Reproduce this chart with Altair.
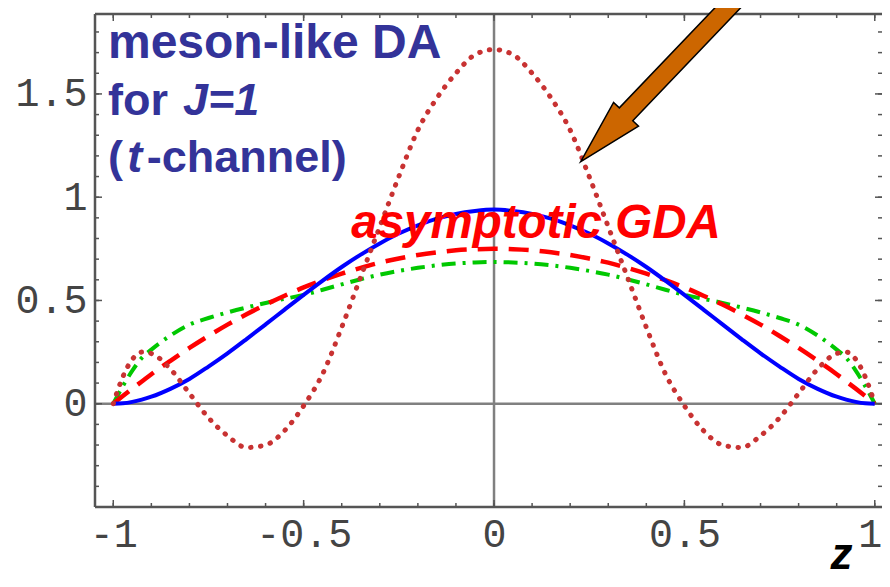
import altair as alt
import pandas as pd

# ---------------- data ----------------
z = [-1, -0.975, -0.95, -0.925, -0.9, -0.85, -0.8, -0.75, -0.7, -0.65, -0.6, -0.55,
     -0.5, -0.45, -0.4, -0.35, -0.3, -0.25, -0.2, -0.15, -0.1, -0.05, 0,
     0.05, 0.1, 0.15, 0.2, 0.25, 0.3, 0.35, 0.4, 0.45, 0.5, 0.55, 0.6, 0.65,
     0.7, 0.75, 0.8, 0.85, 0.9, 0.925, 0.95, 0.975, 1]

blue_solid = [0, 0.002, 0.009, 0.02, 0.034, 0.072, 0.12, 0.18, 0.244, 0.313, 0.384, 0.456,
              0.527, 0.596, 0.662, 0.722, 0.776, 0.824, 0.864, 0.896, 0.919, 0.933, 0.94,
              0.933, 0.919, 0.896, 0.864, 0.824, 0.776, 0.722, 0.662, 0.596, 0.527, 0.456, 0.384, 0.313,
              0.244, 0.18, 0.12, 0.072, 0.034, 0.02, 0.009, 0.002, 0]

red_dashed = [0, 0.037, 0.073, 0.108, 0.143, 0.208, 0.27, 0.328, 0.383, 0.433, 0.48, 0.523,
              0.563, 0.598, 0.63, 0.658, 0.683, 0.703, 0.72, 0.733, 0.743, 0.748, 0.75,
              0.748, 0.743, 0.733, 0.72, 0.703, 0.683, 0.658, 0.63, 0.598, 0.563, 0.523, 0.48, 0.433,
              0.383, 0.328, 0.27, 0.208, 0.143, 0.108, 0.073, 0.037, 0]

green_dashdot = [0, 0.085, 0.16, 0.222, 0.262, 0.33, 0.383, 0.415, 0.442, 0.466, 0.488, 0.508,
                 0.527, 0.552, 0.578, 0.603, 0.625, 0.643, 0.658, 0.67, 0.679, 0.684, 0.686,
                 0.684, 0.679, 0.67, 0.658, 0.643, 0.625, 0.603, 0.578, 0.552, 0.527, 0.508, 0.488, 0.466,
                 0.442, 0.415, 0.383, 0.33, 0.262, 0.222, 0.16, 0.085, 0]

red_dotted = [0, 0.13, 0.215, 0.25, 0.243, 0.168, 0.05, -0.068, -0.155, -0.212, -0.2, -0.13,
              -0.01, 0.145, 0.37, 0.615, 0.857, 1.1, 1.325, 1.48, 1.6, 1.69, 1.715,
              1.69, 1.6, 1.48, 1.325, 1.1, 0.857, 0.615, 0.37, 0.145, -0.01, -0.13, -0.2, -0.212,
              -0.155, -0.068, 0.05, 0.168, 0.243, 0.25, 0.215, 0.13, 0]

x_major = [-1, -0.5, 0, 0.5, 1]
x_minor = [-1, -0.9, -0.8, -0.7, -0.6, -0.5, -0.4, -0.3, -0.2, -0.1, 0,
           0.1, 0.2, 0.3, 0.4, 0.5, 0.6, 0.7, 0.8, 0.9, 1]
y_major = [0, 0.5, 1, 1.5]
y_minor = [-0.4, -0.3, -0.2, -0.1, 0, 0.1, 0.2, 0.3, 0.4, 0.5, 0.6, 0.7, 0.8, 0.9,
           1, 1.1, 1.2, 1.3, 1.4, 1.5, 1.6, 1.7, 1.8]

# annotations (text, anchor z, anchor y)
plain_text = ["meson-like DA", "for", "(", "-channel)"]
plain_z = [-1.014, -1.014, -1.014, -0.912]
plain_y = [1.673, 1.398, 1.124, 1.124]
plain_size = [48, 45, 45, 45]

ital_text = ["J=1", "t", "asymptotic GDA"]
ital_z = [-0.817, -0.963, -0.375]
ital_y = [1.398, 1.124, 0.803]
ital_size = [45, 45, 47.5]
ital_color = ["#333399", "#333399", "#ff0000"]

arrow_z = [0.50]
arrow_y = [1.697]

# ---------------- layout ----------------
W, H = 787, 493
XDOM = [-1.048, 1.019]
YDOM = [-0.5, 1.887]
FRAME = "#555555"
MONO = "Liberation Mono"
SANS = "Liberation Sans"

xs = alt.Scale(domain=XDOM, nice=False, zero=False)
ys = alt.Scale(domain=YDOM, nice=False, zero=False)

xaxis = alt.Axis(values=x_major, format="~g",
                 labelExpr="replace(datum.label, '\u2212', '-')",
                 labelFont=MONO, labelFontSize=40, labelColor="#444444",
                 labelPadding=7, labelFlush=False, labelOverlap=False,
                 labelOffset={"condition": {"test": "datum.value === 1", "value": -5}, "value": 0},
                 ticks=False, tickSize=0, domain=False, grid=False,
                 title="z", titleFont=SANS, titleFontSize=44, titleFontStyle="italic",
                 titleFontWeight="bold", titleColor="black", titleX=746, titleY=61,
                 titleAlign="center", titleBaseline="alphabetic")
yaxis = alt.Axis(values=y_major, format="~g",
                 labelFont=MONO, labelFontSize=40, labelColor="#444444",
                 labelPadding=8, labelOverlap=False,
                 ticks=False, tickSize=0, domain=False, grid=False, title=None)

X = alt.X("z:Q", scale=xs, axis=xaxis)
Y = alt.Y("y:Q", scale=ys, axis=yaxis)

curves = pd.DataFrame({"z": z, "blue": blue_solid, "dash": red_dashed,
                       "green": green_dashdot, "dot": red_dotted})

def curve(col, **kw):
    df = pd.DataFrame({"z": curves["z"], "y": curves[col]})
    return alt.Chart(df).mark_line(interpolate="monotone", **kw).encode(x=X, y=Y)

one = pd.DataFrame({"k": [0]})

zero_v = alt.Chart(pd.DataFrame({"z": [0]})).mark_rule(color="#808080", strokeWidth=2.5).encode(
    x=X, y=alt.value(0), y2=alt.value(H))
zero_h = alt.Chart(pd.DataFrame({"y": [0]})).mark_rule(color="#808080", strokeWidth=2.5).encode(
    y=Y, x=alt.value(0), x2=alt.value(W))

green_l = curve("green", color="#00c800", strokeWidth=4, strokeDash=[14, 7, 3, 7])
dash_l = curve("dash", color="#ff0000", strokeWidth=4.5, strokeDash=[20, 11])
blue_l = curve("blue", color="#0000ff", strokeWidth=4)
dot_l = curve("dot", color="#c83232", strokeWidth=5, strokeDash=[0.5, 9.5], strokeCap="round")

frame_top = alt.Chart(one).mark_rule(color=FRAME, strokeWidth=2.5).encode(
    x=alt.value(0), x2=alt.value(W), y=alt.value(0))
frame_bot = alt.Chart(one).mark_rule(color=FRAME, strokeWidth=2.5).encode(
    x=alt.value(0), x2=alt.value(W), y=alt.value(H))
frame_left = alt.Chart(one).mark_rule(color=FRAME, strokeWidth=2.5).encode(
    x=alt.value(0), y=alt.value(0), y2=alt.value(H))

def xticks(vals, y0, y1):
    return alt.Chart(pd.DataFrame({"z": vals})).mark_rule(color=FRAME, strokeWidth=1.5).encode(
        x=X, y=alt.value(y0), y2=alt.value(y1))

def yticks(vals, x0, x1):
    return alt.Chart(pd.DataFrame({"y": vals})).mark_rule(color=FRAME, strokeWidth=1.5).encode(
        y=Y, x=alt.value(x0), x2=alt.value(x1))

ticks = [xticks(x_minor, H, H - 4), xticks(x_major, H, H - 7),
         xticks(x_minor, 0, 4), xticks(x_major, 0, 7),
         yticks(y_minor, 0, 4), yticks(y_major, 0, 7),
         yticks(y_minor, W, W - 4), yticks(y_major, W, W - 7)]

plain_df = pd.DataFrame({"t": plain_text, "z": plain_z, "y": plain_y, "s": plain_size})
ital_df = pd.DataFrame({"t": ital_text, "z": ital_z, "y": ital_y, "s": ital_size, "c": ital_color})

plain_l = alt.Chart(plain_df).mark_text(font=SANS, fontWeight="bold", align="left",
                                        baseline="alphabetic", color="#333399").encode(
    x=X, y=Y, text="t:N", size=alt.Size("s:Q", scale=None))
ital_l = alt.Chart(ital_df).mark_text(font=SANS, fontWeight="bold", fontStyle="italic",
                                      align="left", baseline="alphabetic").encode(
    x=X, y=Y, text="t:N", size=alt.Size("s:Q", scale=None), color=alt.Color("c:N", scale=None))

ARROW = "M1,0 L0.563,0.115 L0.563,0.062 L-1,0.062 L-1,-0.062 L0.563,-0.062 L0.563,-0.115 Z"
arrow = alt.Chart(pd.DataFrame({"z": arrow_z, "y": arrow_y})).mark_point(
    shape=ARROW, filled=True, fill="#cc6600", stroke="black", strokeWidth=1.5,
    opacity=1, size=90000, angle=133.7, strokeJoin="miter").encode(x=X, y=Y)

chart = alt.layer(zero_v, zero_h, green_l, dash_l, blue_l, dot_l,
                  frame_top, frame_bot, frame_left, *ticks,
                  plain_l, ital_l, arrow).properties(
    width=W, height=H,
    autosize=alt.AutoSizeParams(type="none"),
    padding={"left": 87, "top": 6, "right": 0, "bottom": 70},
    background="white",
).configure_view(stroke=None)

chart.save("out.html", embed_options={"renderer": "svg", "actions": False})
